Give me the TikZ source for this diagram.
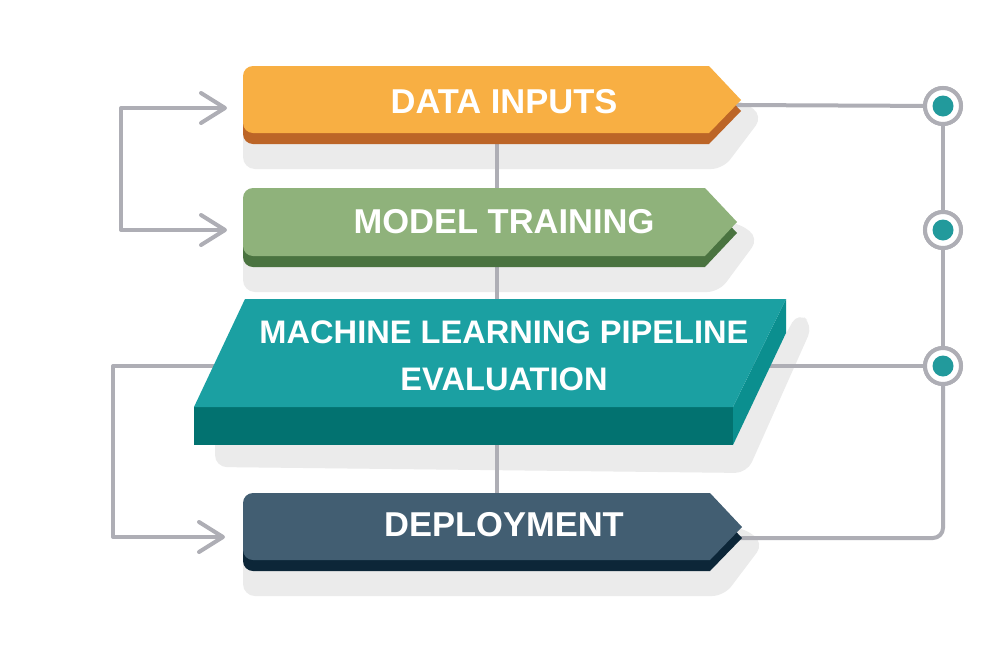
\documentclass[tikz,border=0pt]{standalone}
\usepackage{fontspec}
\setmainfont{Liberation Sans}
\usetikzlibrary{arrows.meta}
\definecolor{orangeface}{HTML}{F8AF43}
\definecolor{orangedark}{HTML}{BC6527}
\definecolor{greenface}{HTML}{8FB27B}
\definecolor{greendark}{HTML}{4A7340}
\definecolor{tealtop}{HTML}{1BA0A2}
\definecolor{tealfront}{HTML}{027270}
\definecolor{tealside}{HTML}{0B8F8F}
\definecolor{navyface}{HTML}{425E72}
\definecolor{navydark}{HTML}{0C2638}
\definecolor{linegray}{HTML}{AEAEB5}
\definecolor{shadowgray}{HTML}{EBEBEB}
\definecolor{dotteal}{HTML}{229A9C}
% #1 L, #2 T, #3 B, #4 chamfer x, #5 tip x, #6 tip y, #7 face, #8 dark
\newcommand{\mkshadow}[6]{%
  \fill[shadowgray, rounded corners=12] (#1,#6) -- (#5,#6) -- (#5+22,#6+16) -- (#4+14,#3+36) -- (#1,#3+36) -- cycle;}
\newcommand{\mkarrowbox}[8]{%
  \fill[#8, rounded corners=10] (#1,#2+11) rectangle (#4-20,#3+11);
  \fill[#8] (#4-30,#2+11) -- (#4,#2+11) -- (#5,#6+11) -- (#4,#3+11) -- (#4-30,#3+11) -- cycle;
  \fill[#7, rounded corners=10] (#1,#2) rectangle (#4-20,#3);
  \fill[#7] (#4-30,#2) -- (#4,#2) -- (#5,#6) -- (#4,#3) -- (#4-30,#3) -- cycle;}
\tikzset{
  conn/.style={draw=linegray, line width=4pt, line cap=round, line join=round},
  barb/.style={-{Straight Barb[length=24pt,width=30pt,round]}},
  label/.style={text=white, font=\fontsize{34.5}{40}\selectfont\bfseries, anchor=base, inner sep=0pt},
  tlabel/.style={label, font=\fontsize{32.6}{40}\selectfont\bfseries},
  ring/.style={circle, draw=linegray, line width=4pt, fill=white, minimum size=36pt, inner sep=0pt}
}
\begin{document}
\begin{tikzpicture}[x=1pt,y=-1pt]
\useasboundingbox (0,0) rectangle (1005,670);
\fill[white] (0,0) rectangle (1005,670);
% shadows
\mkshadow{243}{66}{133}{709}{741}{100}
\mkshadow{243}{188}{256}{705}{737}{222}
\mkshadow{243}{493}{560}{710}{742}{527}
\fill[shadowgray, rounded corners=12] (215,430) -- (733,430) -- (798,312) -- (813,325) -- (747,473) -- (215,467) -- cycle;
% named points
\coordinate (spineTop) at (497,120);
\coordinate (spineBot) at (497,520);
\coordinate (dinTip) at (735,105);
\coordinate (depTip) at (735,538);
\coordinate (mlR) at (700,366);
\coordinate (mlL) at (240,366);
\coordinate (k1) at (121,108);
\coordinate (k2) at (121,230);
\coordinate (a1) at (227,108);
\coordinate (a2) at (227,230);
\coordinate (k3) at (113,366);
\coordinate (k4) at (113,537);
\coordinate (a3) at (225,537);
\node[ring] (c1) at (943,106) {};
\node[ring] (c2) at (943,230) {};
\node[ring] (c3) at (943,366) {};
% connectors
\draw[conn] (spineTop) -- (spineBot);
\draw[conn] (dinTip) -- (c1.center);
\draw[conn] (mlR) -- (c3.center);
\draw[conn] (c1.center) -- (c3.center);
\draw[conn, rounded corners=10] (depTip) -| (c3.center);
\draw[conn, {Straight Barb[length=24pt,width=30pt,round]}-{Straight Barb[length=24pt,width=30pt,round]}] (a1) -- (k1) -- (k2) -- (a2);
\draw[conn, barb] (mlL) -- (k3) -- (k4) -- (a3);
% boxes
\mkarrowbox{243}{66}{133}{709}{741}{100}{orangeface}{orangedark}
\mkarrowbox{243}{188}{256}{705}{737}{222}{greenface}{greendark}
\fill[tealfront] (194,407) -- (733,407) -- (733,445) -- (194,445) -- cycle;
\fill[tealside] (786,299) -- (786,333) -- (733,445) -- (733,407) -- cycle;
\fill[tealtop] (245,299) -- (786,299) -- (733,407) -- (194,407) -- cycle;
\mkarrowbox{243}{493}{560}{710}{742}{527}{navyface}{navydark}
% labels
\node[label] (din) at (504,113) {DATA INPUTS};
\node[label] (mt) at (504,233) {MODEL TRAINING};
\node[tlabel] (ml1) at (504,343) {MACHINE LEARNING PIPELINE};
\node[tlabel] (ml2) at (504,390) {EVALUATION};
\node[label] (dep) at (504,536) {DEPLOYMENT};
% rings on top
\node[ring] at (c1) {};
\node[ring] at (c2) {};
\node[ring] at (c3) {};
\fill[dotteal] (c1) circle (10.5);
\fill[dotteal] (c2) circle (10.5);
\fill[dotteal] (c3) circle (10.5);
\end{tikzpicture}
\end{document}
